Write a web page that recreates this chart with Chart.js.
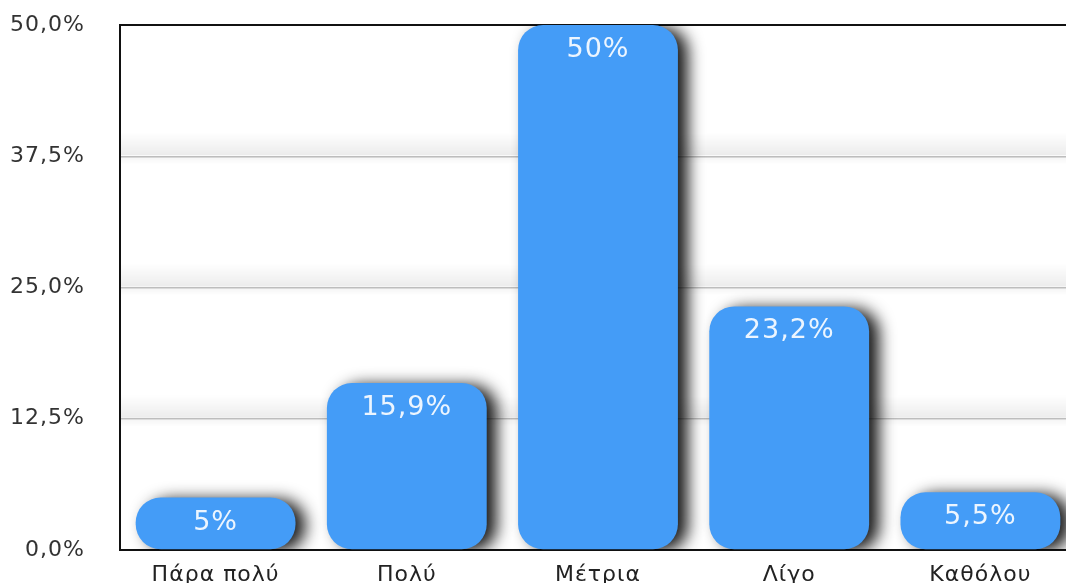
<!DOCTYPE html>
<html>
<head>
<meta charset="utf-8">
<script src="https://cdn.jsdelivr.net/npm/chart.js@4"></script>
<style>
  html, body { margin: 0; padding: 0; background: #fff; overflow: hidden; }
  #wrap { width: 1066px; height: 583px; overflow: hidden; }
  #box { position: relative; width: 1076px; height: 583px; }
</style>
</head>
<body>
<div id="wrap"><div id="box"><canvas id="myChart"></canvas></div></div>
<script>
const categories = ['Πάρα πολύ', 'Πολύ', 'Μέτρια', 'Λίγο', 'Καθόλου'];
const percents = [5, 15.9, 50, 23.2, 5.5];
const yTicks = [0, 12.5, 25, 37.5, 50];

const barColor = '#449cf7';
const fontName = '"DejaVu Sans", Verdana, sans-serif';

const toGreek = (v, digits) => (digits == null ? String(v) : v.toFixed(digits)).replace('.', ',') + '%';

// soft gray band sitting above each inner grid line, plus bar shadows and value labels
const gridShade = {
  id: 'gridShade',
  beforeLayout(chart) { chart.ctx.letterSpacing = '1px'; },
  beforeDraw(chart) { chart.ctx.letterSpacing = '1px'; },
  beforeDatasetsDraw(chart) {
    const { ctx, chartArea, scales } = chart;
    ctx.save();
    yTicks.forEach(t => {
      if (t === 0 || t === 50) return;
      const y = scales.y.getPixelForValue(t);
      const g = ctx.createLinearGradient(0, y - 24, 0, y);
      g.addColorStop(0, 'rgba(0,0,0,0)');
      g.addColorStop(1, 'rgba(0,0,0,0.08)');
      ctx.fillStyle = g;
      ctx.fillRect(chartArea.left + 1, y - 24, chartArea.right - chartArea.left, 23);
      const g2 = ctx.createLinearGradient(0, y + 1, 0, y + 8);
      g2.addColorStop(0, 'rgba(0,0,0,0.04)');
      g2.addColorStop(1, 'rgba(0,0,0,0)');
      ctx.fillStyle = g2;
      ctx.fillRect(chartArea.left + 1, y + 1, chartArea.right - chartArea.left, 7);
    });
    ctx.restore();
    ctx.save();
    ctx.shadowColor = 'rgba(0,0,0,0.9)';
    ctx.shadowBlur = 16;
    ctx.shadowOffsetX = 10;
    ctx.shadowOffsetY = 2;
  },
  afterDatasetsDraw(chart) {
    const { ctx } = chart;
    ctx.restore();
    ctx.save();
    ctx.font = '27px ' + fontName;
    ctx.fillStyle = 'rgba(255,255,255,0.9)';
    ctx.textAlign = 'center';
    ctx.textBaseline = 'alphabetic';
    chart.getDatasetMeta(0).data.forEach((bar, i) => {
      ctx.fillText(toGreek(percents[i]), bar.x, bar.y + 32);
    });
    ctx.restore();
  }
};

const ctx = document.getElementById('myChart').getContext('2d');
const chart = new Chart(ctx, {
  type: 'bar',
  data: {
    labels: categories,
    datasets: [{
      data: percents,
      backgroundColor: barColor,
      borderWidth: 0,
      borderRadius: 25,
      borderSkipped: false,
      categoryPercentage: 1,
      barPercentage: 0.836
    }]
  },
  options: {
    responsive: true,
    maintainAspectRatio: false,
    animation: false,
    devicePixelRatio: 1,
    layout: { padding: { top: 25, right: 0, left: 0, bottom: 0 } },
    plugins: { legend: { display: false }, tooltip: { enabled: false } },
    scales: {
      x: {
        grid: { display: false, drawTicks: false },
        border: { display: true, color: '#111', width: 2 },
        ticks: { color: '#222', font: { family: fontName, size: 22 }, padding: 12, maxRotation: 0 },
        afterFit(s) { s.height = 33; }
      },
      y: {
        min: 0,
        max: 50,
        afterBuildTicks(s) { s.ticks = yTicks.map(v => ({ value: v })); },
        grid: {
          drawTicks: false,
          color: c => c.tick.value === 50 ? '#111' : '#bdbdbd',
          lineWidth: c => c.tick.value === 50 ? 2 : 1.5
        },
        border: { display: true, color: '#111', width: 2 },
        ticks: {
          color: '#333',
          padding: 35,
          font: { family: fontName, size: 22 },
          callback: v => toGreek(v, 1)
        },
        afterFit(s) { s.width = 120; s.paddingTop = 0; s.paddingBottom = 0; }
      }
    }
  },
  plugins: [gridShade]
});
</script>
</body>
</html>
